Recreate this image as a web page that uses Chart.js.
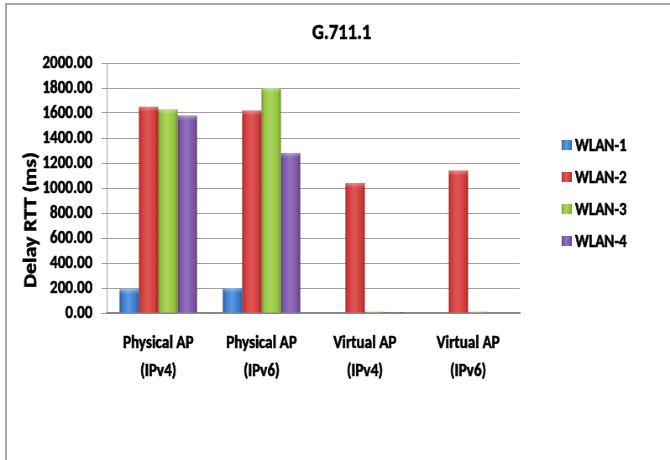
<!DOCTYPE html>
<html>
<head>
<meta charset="utf-8">
<script src="https://cdn.jsdelivr.net/npm/chart.js@4"></script>
<style>
  html, body { margin: 0; padding: 0; background: #fff; }
  #wrap { position: relative; width: 670px; height: 460px; overflow: hidden; }
  #frame { position: absolute; left: 5px; top: 3px; width: 670px; height: 460px;
           border-left: 2px solid #a8a8a8; border-top: 2px solid #a8a8a8; pointer-events: none; }
  /* the chart is drawn on a wider canvas and squeezed to 670px for a condensed look */
  #c { position: absolute; left: 0; top: 0; }
</style>
</head>
<body>
<div id="wrap">
  <canvas id="c" width="798" height="460" style="width:670px;height:460px"></canvas>
  <div id="frame"></div>
</div>
<script>
// Round-trip delay per access point setup, one series per WLAN
const categories = [
  ["Physical AP", "(IPv4)"],
  ["Physical AP", "(IPv6)"],
  ["Virtual AP", "(IPv4)"],
  ["Virtual AP", "(IPv6)"]
];
const seriesNames = ["WLAN-1", "WLAN-2", "WLAN-3", "WLAN-4"];
const wlan1 = [190, 200, 0, 0];
const wlan2 = [1650, 1620, 1040, 1140];
const wlan3 = [1630, 1800, 10, 10];
const wlan4 = [1580, 1280, 8, 0];
const yTicks = [0, 200, 400, 600, 800, 1000, 1200, 1400, 1600, 1800, 2000];

// base, light and dark shades for the bevelled bar look
const palette = [
  { base: "#3b78c8", light: "#5b9be6", dark: "#25569a" },
  { base: "#cf3a3a", light: "#e25656", dark: "#9c2424" },
  { base: "#94c13f", light: "#aad65a", dark: "#678c25" },
  { base: "#7a55a6", light: "#9270bf", dark: "#553a7c" }
];

const FONT = "Carlito, 'Liberation Sans', sans-serif";
const STROKE = 0.6;

function barGradient(ctx, left, right, p) {
  const g = ctx.createLinearGradient(left, 0, right, 0);
  g.addColorStop(0, p.dark);
  g.addColorStop(0.12, p.base);
  g.addColorStop(0.45, p.light);
  g.addColorStop(0.85, p.base);
  g.addColorStop(1, p.dark);
  return g;
}

function heavyText(ctx, text, x, y) {
  ctx.lineWidth = STROKE;
  ctx.strokeStyle = "#000";
  ctx.strokeText(text, x, y);
  ctx.fillText(text, x, y);
}

const bevelBars = {
  id: "bevelBars",
  beforeDatasetsDraw(chart) {
    const ctx = chart.ctx;
    chart.data.datasets.forEach((ds, di) => {
      const meta = chart.getDatasetMeta(di);
      meta.data.forEach(el => {
        const { x, width } = el.getProps(["x", "width"], true);
        el.options.backgroundColor = barGradient(ctx, x - width / 2, x + width / 2, palette[di]);
      });
    });
  },
  afterDatasetsDraw(chart) {
    const ctx = chart.ctx;
    ctx.save();
    chart.data.datasets.forEach((ds, di) => {
      const meta = chart.getDatasetMeta(di);
      meta.data.forEach(el => {
        const { x, y, base, width } = el.getProps(["x", "y", "base", "width"], true);
        const h = base - y;
        if (h < 4) return;
        const band = Math.min(5, h / 3);
        const g = ctx.createLinearGradient(0, y, 0, y + band);
        g.addColorStop(0, "rgba(255,255,255,0.35)");
        g.addColorStop(1, "rgba(255,255,255,0)");
        ctx.fillStyle = g;
        ctx.fillRect(x - width / 2, y, width, band);
      });
    });
    ctx.restore();
  }
};

// title, rotated axis title and the legend column
const decorations = {
  id: "decorations",
  afterDraw(chart) {
    const ctx = chart.ctx;
    const area = chart.chartArea;
    ctx.save();
    ctx.fillStyle = "#000";

    ctx.font = "bold 22px " + FONT;
    ctx.textAlign = "center";
    ctx.textBaseline = "middle";
    heavyText(ctx, "G.711.1", chart.width / 2 + 8, 33);

    ctx.save();
    ctx.translate(37, (area.top + area.bottom) / 2 + 32);
    ctx.rotate(-Math.PI / 2);
    ctx.font = "bold 22px " + FONT;
    heavyText(ctx, "Delay RTT (ms)", 0, 0);
    ctx.restore();

    const n = chart.data.datasets.length;
    const step = 32;
    const cy = (area.top + area.bottom) / 2 + 5;
    const x0 = area.right + 50;
    ctx.font = "bold 18px " + FONT;
    ctx.textAlign = "left";
    chart.data.datasets.forEach((ds, i) => {
      const y = cy + (i - (n - 1) / 2) * step;
      ctx.fillStyle = barGradient(ctx, x0, x0 + 12, palette[i]);
      ctx.fillRect(x0, y - 5, 12, 10);
      ctx.fillStyle = "#000";
      heavyText(ctx, ds.label, x0 + 16, y + 1);
    });
    ctx.restore();
  }
};

const values = [wlan1, wlan2, wlan3, wlan4];

new Chart(document.getElementById("c"), {
  type: "bar",
  data: {
    labels: categories,
    datasets: seriesNames.map((name, i) => ({
      label: name,
      data: values[i],
      backgroundColor: () => palette[i].base,
      borderWidth: 0,
      categoryPercentage: 0.75,
      barPercentage: 1.0
    }))
  },
  options: {
    responsive: false,
    animation: false,
    events: [],
    layout: { padding: { left: 0, right: 179, top: 63, bottom: 0 } },
    plugins: {
      legend: { display: false },
      tooltip: { enabled: false },
      title: { display: false }
    },
    scales: {
      x: {
        grid: { display: false, drawTicks: false },
        border: { display: true, color: "#8a8a8a", width: 2 },
        ticks: {
          color: "#000",
          textStrokeColor: "#000",
          textStrokeWidth: STROKE,
          padding: 16,
          maxRotation: 0,
          autoSkip: false,
          font: { family: FONT, size: 18, weight: "bold", lineHeight: 1.56 }
        },
        afterFit(scale) { scale.height = 147; }
      },
      y: {
        min: 0,
        max: 2000,
        afterBuildTicks(scale) { scale.ticks = yTicks.map(v => ({ value: v })); },
        grid: { color: "#a0a0a0", lineWidth: 1, drawTicks: true, tickLength: 6 },
        border: { display: true, color: "#a0a0a0", width: 1 },
        ticks: {
          color: "#000",
          textStrokeColor: "#000",
          textStrokeWidth: STROKE,
          padding: 11,
          font: { family: FONT, size: 18, weight: "bold" },
          callback: v => Number(v).toFixed(2)
        },
        afterFit(scale) { scale.width = 127; }
      }
    }
  },
  plugins: [bevelBars, decorations]
});
</script>
</body>
</html>
